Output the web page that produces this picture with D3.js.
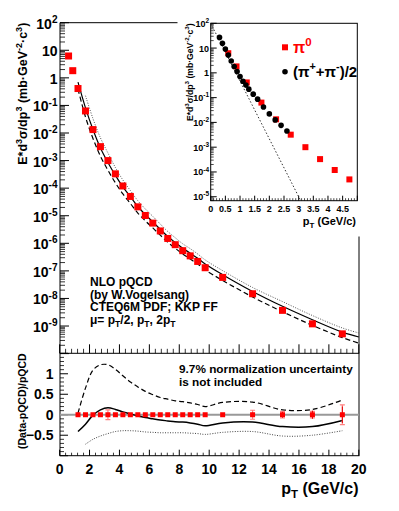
<!DOCTYPE html>
<html><head><meta charset="utf-8">
<script src="https://cdn.jsdelivr.net/npm/d3@7"></script>
<style>
body{margin:0;background:#fff}
svg{display:block}
text{font-family:"Liberation Sans",Arial,Helvetica,sans-serif;font-weight:bold;fill:#000}
</style>
</head><body>
<svg id="c" width="399" height="511"></svg>
<script>
// ---------------- data ----------------
const pi0Pt   = [0.6,0.88,1.23,1.73,2.23,2.73,3.23,3.73,4.23,4.73,5.23,5.73,6.23,6.73,7.23,7.73,8.23,8.73,9.23,9.73,10.9,12.9,14.9,16.9,18.9];
const pi0Xsec = [6.2,1.82,0.41,0.063,0.0133,3.2e-3,1.0e-3,3.3e-4,1.2e-4,5.0e-5,2.1e-5,1.02e-5,5.4e-6,2.8e-6,1.5e-6,8.9e-7,5.4e-7,3.5e-7,2.2e-7,1.3e-7,5.8e-8,1.48e-8,3.7e-9,1.2e-9,5.2e-10];

const chPt   = [0.3,0.4,0.5,0.6,0.7,0.8,0.9,1.0,1.1,1.2,1.3,1.45,1.6,1.8,2.0,2.2,2.4,2.6];
const chXsec = [27,15.5,9.1,5.2,3.0,1.8,1.14,0.71,0.46,0.32,0.22,0.138,0.087,0.042,0.022,0.0126,0.0076,0.0045];

// NLO pQCD curves (mu = pT, 2pT, pT/2)
const nloPt     = [1.23,1.73,2.23,2.73,3.23,3.73,4.23,4.73,5.23,5.73,6.23,6.73,7.23,7.73,8.23,8.73,9.23,9.73,10.9,12.9,14.9,16.9,18.9,20];
const nloMu1    = [0.695,0.0818,0.01343,2.86e-3,8.55e-4,2.92e-4,1.12e-4,4.9e-5,2.16e-5,1.10e-5,6.0e-6,3.22e-6,1.76e-6,1.07e-6,6.6e-7,4.4e-7,2.86e-7,1.78e-7,7.3e-8,1.8e-8,5.2e-9,1.69e-9,6.0e-10,4.0e-10];
const nloMu2    = [0.394,0.0382,6.36e-3,1.44e-3,4.5e-4,1.56e-4,6.15e-5,2.78e-5,1.25e-5,6.5e-6,3.62e-6,1.97e-6,1.09e-6,6.6e-7,4.1e-7,2.7e-7,1.76e-7,1.09e-7,4.5e-8,1.13e-8,3.3e-9,1.06e-9,3.8e-10,2.4e-10];
const nloHalfPt = [1.73,2.23,2.73,3.23,3.73,4.23,4.73,5.23,5.73,6.23,6.73,7.23,7.73,8.23,8.73,9.23,9.73,10.9,12.9,14.9,16.9,18.9,20];
const nloHalf   = [0.225,0.0333,6.67e-3,1.89e-3,5.6e-4,1.97e-4,8.2e-5,3.5e-5,1.76e-5,9.5e-6,5.0e-6,2.68e-6,1.59e-6,9.6e-7,6.4e-7,4.1e-7,2.5e-7,1.02e-7,2.5e-8,7.7e-9,2.4e-9,8.5e-10,5.6e-10];

// inset: exponential reference (dotted straight line in log scale)
const expPt = [0, 3.13];
const expY  = [100, 5e-6];

// ratio panel
const ratioPt    = [1.23,1.73,2.23,2.73,3.23,3.73,4.23,4.73,5.23,5.73,6.23,6.73,7.23,7.73,8.23,8.73,9.23,9.73,10.9,12.9,14.9,16.9,18.9];
const ratioData  = [0,0,0,0,0,0,0,0,0,0,0,0,0,0,0,0,0,0,0,0,0,0,0];
const ratioStat  = [0,0,0,0,0,0,0,0,0,0,0,0,0,0,0,0,0,0.01,0.02,0.05,0.07,0.1,0.2];
const ratioSys   = [0.02,0.02,0.02,0.02,0.12,0.02,0.02,0.02,0.02,0.02,0.02,0.02,0.02,0.02,0.02,0.02,0.02,0.02,0.03,0.11,0.08,0.08,0.24];
const ratioMu1   = [-0.41,-0.23,-0.01,0.12,0.17,0.13,0.07,0.02,-0.03,-0.07,-0.10,-0.13,-0.15,-0.17,-0.18,-0.20,-0.23,-0.27,-0.20,-0.18,-0.29,-0.29,-0.14];
const ratioMu2   = [0.04,0.65,1.09,1.22,1.22,1.11,0.95,0.80,0.68,0.57,0.49,0.42,0.38,0.34,0.32,0.29,0.25,0.20,0.30,0.31,0.12,0.13,0.36];
const ratioHalfPt= [1.73,2.23,2.73,3.23,3.73,4.23,4.73,5.23,5.73,6.23,6.73,7.23,7.73,8.23,8.73,9.23,9.73,10.9,12.9,14.9,16.9,18.9];
const ratioHalf  = [-0.72,-0.60,-0.52,-0.46,-0.41,-0.39,-0.39,-0.40,-0.42,-0.43,-0.44,-0.44,-0.44,-0.44,-0.45,-0.46,-0.48,-0.43,-0.41,-0.52,-0.50,-0.39];

// tick labels
const mainXTicks   = [0,2,4,6,8,10,12,14,16,18,20];
const mainYTicks   = ["10^{2}","10","1","10^{-1}","10^{-2}","10^{-3}","10^{-4}","10^{-5}","10^{-6}","10^{-7}","10^{-8}","10^{-9}"];
const ratioYTicks  = [1,0.5,0,-0.5];
const insetXTicks  = ["0","0.5","1","1.5","2","2.5","3","3.5","4","4.5"];
const insetYTicks  = ["10^{2}","10","1","10^{-1}","10^{-2}","10^{-3}","10^{-4}","10^{-5}"];

const mainYTitle  = "E*d^{3}σ/dp^{3} (mb·GeV^{-2}·c^{3})";
const ratioYTitle = "(Data-pQCD)/pQCD";
const xTitle      = "p_{T} (GeV/c)";
const legendLabels = ["π^{0}", "(π^{+}+π^{-})/2"];
const nloText  = ["NLO pQCD","(by W.Vogelsang)","CTEQ6M PDF; KKP FF","μ= p_{T}/2, p_{T}, 2p_{T}"];
const normText = ["9.7% normalization uncertainty","is not included"];

// ---------------- helpers ----------------
function parse(s){
  const parts=[]; const re=/([\^_])\{([^}]*)\}/g; let last=0,m;
  while((m=re.exec(s))){ if(m.index>last) parts.push([s.slice(last,m.index),0]); parts.push([m[2], m[1]==='^'?1:-1]); last=re.lastIndex; }
  if(last<s.length) parts.push([s.slice(last),0]);
  return parts;
}
function rich(sel, s, fs){
  let cur=0;
  parse(s).forEach(([t,m])=>{
    const size = m? fs*0.72 : fs;
    const target = m===1? -fs*0.42 : (m===-1? fs*0.28 : 0);
    sel.append('tspan').attr('font-size',size).attr('dy',(target-cur).toFixed(2)).text(t);
    cur=target;
  });
  return sel;
}

const svg = d3.select('#c');
svg.append('rect').attr('width',399).attr('height',511).attr('fill','#fff');

// ---------------- scales ----------------
const L=60, R=359, T=22.7, MB=353.3, BB=455.7;
const x  = d3.scaleLinear().domain([0,20]).range([59.6,358.8]);
const yM = d3.scaleLog().domain([1e-10,1e2]).range([353.6,T]);
const yR = d3.scaleLinear().domain([-1,1.5]).range([BB,MB]);

const IL=210.7, IR=357.3, IT=23.3, IB=200.7;
const xi = d3.scaleLinear().domain([0,5]).range([IL,IR]);
const yi = d3.scaleLog().domain([Math.pow(10,-5.16),1e2]).range([IB,IT]);

const defs = svg.append('defs');
defs.append('clipPath').attr('id','cm').append('rect').attr('x',L).attr('y',T).attr('width',R-L).attr('height',MB-T);
defs.append('clipPath').attr('id','cr').append('rect').attr('x',L).attr('y',MB).attr('width',R-L).attr('height',BB-MB);
defs.append('clipPath').attr('id','ci').append('rect').attr('x',IL).attr('y',IT).attr('width',IR-IL).attr('height',IB-IT);

function hTick(g, yy, x0, len, w){ g.append('line').attr('x1',x0).attr('x2',x0+len).attr('y1',yy).attr('y2',yy).attr('stroke','#000').attr('stroke-width',w||1); }
function vTick(g, xx, y0, len, w){ g.append('line').attr('x1',xx).attr('x2',xx).attr('y1',y0).attr('y2',y0-len).attr('stroke','#000').attr('stroke-width',w||1); }

// ---------------- main panel ----------------
const gm = svg.append('g');
gm.append('path').attr('d',`M${L},${MB}V${T}H${R}V${MB}`).attr('fill','none').attr('stroke','#000').attr('stroke-width',1);
for(let k=-10;k<=2;k++){
  hTick(gm, yM(Math.pow(10,k)), L, 9);
  if(k<2) for(let m=2;m<=9;m++) hTick(gm, yM(m*Math.pow(10,k)), L, 5, 0.8);
}
mainYTicks.forEach((lab,i)=>{
  const v = Math.pow(10, 2-i);
  rich(gm.append('text').attr('x',57.5).attr('y',yM(v)+6).attr('text-anchor','end'), lab, 14);
});
d3.range(0,20.001,0.4).forEach(v=>{ const major = Math.abs(v/2-Math.round(v/2))<1e-6; vTick(gm, x(v), MB, major?9:4.5, major?1:0.8); });
rich(gm.append('text').attr('transform',`translate(27,${T}) rotate(-90)`).attr('text-anchor','end'), mainYTitle, 12.5);

const lineM = d3.line().x(d=>x(d[0])).y(d=>yM(d[1])).curve(d3.curveCatmullRom);
const cm = gm.append('g').attr('clip-path','url(#cm)');
cm.append('path').attr('d',lineM(nloPt.map((p,i)=>[p,nloMu1[i]]))).attr('fill','none').attr('stroke','#000').attr('stroke-width',1.2);
cm.append('path').attr('d',lineM(nloPt.map((p,i)=>[p,nloMu2[i]]))).attr('fill','none').attr('stroke','#000').attr('stroke-width',1.2).attr('stroke-dasharray','5,3');
cm.append('path').attr('d',lineM(nloHalfPt.map((p,i)=>[p,nloHalf[i]]))).attr('fill','none').attr('stroke','#555').attr('stroke-width',1).attr('stroke-dasharray','1,1.5');
cm.selectAll('rect.p').data(pi0Pt.map((p,i)=>[p,pi0Xsec[i]])).enter().append('rect')
  .attr('x',d=>x(d[0])-3.5).attr('y',d=>yM(d[1])-3.5).attr('width',7).attr('height',7).attr('fill','#ff0000');

nloText.forEach((t,i)=>{ rich(gm.append('text').attr('x',90).attr('y',286+i*12.7), t, 12); });

// ---------------- ratio panel ----------------
const gr = svg.append('g');
gr.append('rect').attr('x',L).attr('y',MB).attr('width',R-L).attr('height',BB-MB).attr('fill','none').attr('stroke','#000').attr('stroke-width',1);
d3.range(-1,1.5001,0.1).forEach(v=>{ const major = Math.abs(v*2-Math.round(v*2))<1e-6; hTick(gr, yR(v), L, major?8:4, major?1:0.8); });
ratioYTicks.forEach(v=>{ gr.append('text').attr('x',53.5).attr('y',yR(v)+5).attr('text-anchor','end').attr('font-size',14).text(v===0?'0':d3.format('')(v)); });
d3.range(0,20.001,0.4).forEach(v=>{ const major = Math.abs(v/2-Math.round(v/2))<1e-6; vTick(gr, x(v), BB, major?6:3, major?1:0.8); });
mainXTicks.forEach(v=>{ gr.append('text').attr('x',x(v)).attr('y',474).attr('text-anchor','middle').attr('font-size',14).text(v); });
rich(gr.append('text').attr('x',358.5).attr('y',494).attr('text-anchor','end'), xTitle, 16);
rich(gr.append('text').attr('transform',`translate(25.5,${MB}) rotate(-90)`).attr('text-anchor','end'), ratioYTitle, 10.5);

const cr = gr.append('g').attr('clip-path','url(#cr)');
cr.append('line').attr('x1',L).attr('x2',R).attr('y1',yR(0)).attr('y2',yR(0)).attr('stroke','#999').attr('stroke-width',2);
const lineR = d3.line().x(d=>x(d[0])).y(d=>yR(d[1])).curve(d3.curveCatmullRom);
cr.append('path').attr('d',lineR(ratioPt.map((p,i)=>[p,ratioMu2[i]]))).attr('fill','none').attr('stroke','#000').attr('stroke-width',1.2).attr('stroke-dasharray','5,3');
cr.append('path').attr('d',lineR(ratioPt.map((p,i)=>[p,ratioMu1[i]]))).attr('fill','none').attr('stroke','#000').attr('stroke-width',1.5);
cr.append('path').attr('d',lineR(ratioHalfPt.map((p,i)=>[p,ratioHalf[i]]))).attr('fill','none').attr('stroke','#444').attr('stroke-width',1).attr('stroke-dasharray','1,1.5');
ratioPt.forEach((p,i)=>{
  const s = ratioSys[i]; if(s<0.05) return;
  const xx=x(p), y1=yR(ratioData[i]+s), y2=yR(ratioData[i]-s);
  cr.append('path').attr('d',`M${xx-2.5},${y1}H${xx+2.5}M${xx},${y1}V${y2}M${xx-2.5},${y2}H${xx+2.5}`).attr('fill','none').attr('stroke','#ff8080').attr('stroke-width',1.2);
});
ratioPt.forEach((p,i)=>{
  const s = ratioStat[i]; if(s<0.03) return;
  const xx=x(p);
  cr.append('line').attr('x1',xx).attr('x2',xx).attr('y1',yR(ratioData[i]+s)).attr('y2',yR(ratioData[i]-s)).attr('stroke','#e00000').attr('stroke-width',1);
});
cr.selectAll('rect.p').data(ratioPt.map((p,i)=>[p,ratioData[i]])).enter().append('rect')
  .attr('x',d=>x(d[0])-2.5).attr('y',d=>yR(d[1])-2.5).attr('width',5).attr('height',5).attr('fill','#ff0000');
normText.forEach((t,i)=>{ gr.append('text').attr('x',179).attr('y',373.3+i*13).attr('font-size',11.8).text(t); });

// ---------------- inset ----------------
const gi = svg.append('g');
gi.append('rect').attr('x',177.5).attr('y',0).attr('width',190).attr('height',236.5).attr('fill','#fff');
gi.append('rect').attr('x',IL).attr('y',IT).attr('width',IR-IL).attr('height',IB-IT).attr('fill','none').attr('stroke','#000').attr('stroke-width',1);
for(let k=-6;k<=2;k++){
  const v=Math.pow(10,k);
  if(v>=yi.domain()[0]) hTick(gi, yi(v), IL, 6);
  if(k<2) for(let m=2;m<=9;m++){ const w=m*v; if(w>=yi.domain()[0]&&w<=100) hTick(gi, yi(w), IL, 3, 0.7); }
}
insetYTicks.forEach((lab,i)=>{ rich(gi.append('text').attr('x',209).attr('y',yi(Math.pow(10,2-i))+3.5).attr('text-anchor','end'), lab, 9); });
d3.range(0,5.0001,0.1).forEach(v=>{ const major = Math.abs(v*2-Math.round(v*2))<1e-6; vTick(gi, xi(v), IB, major?5:2.5, major?1:0.7); });
insetXTicks.forEach(t=>{ gi.append('text').attr('x',xi(+t)).attr('y',211.5).attr('text-anchor','middle').attr('font-size',9).text(t); });
rich(gi.append('text').attr('x',356).attr('y',225).attr('text-anchor','end'), xTitle, 11);
rich(gi.append('text').attr('transform',`translate(193,${IT}) rotate(-90)`).attr('text-anchor','end'), mainYTitle, 8.6);

const ci = gi.append('g').attr('clip-path','url(#ci)');
const lineI = d3.line().x(d=>xi(d[0])).y(d=>yi(d[1]));
ci.append('path').attr('d',lineI(expPt.map((p,i)=>[p,expY[i]]))).attr('fill','none').attr('stroke','#333').attr('stroke-width',1).attr('stroke-dasharray','1.5,2');
ci.selectAll('rect.p').data(pi0Pt.map((p,i)=>[p,pi0Xsec[i]]).filter(d=>d[0]<5)).enter().append('rect')
  .attr('x',d=>xi(d[0])-3).attr('y',d=>yi(d[1])-3).attr('width',6).attr('height',6).attr('fill','#ff0000');
ci.selectAll('circle').data(chPt.map((p,i)=>[p,chXsec[i]])).enter().append('circle')
  .attr('cx',d=>xi(d[0])).attr('cy',d=>yi(d[1])).attr('r',2.8).attr('fill','#000');

gi.append('rect').attr('x',282).attr('y',44.3).attr('width',6).attr('height',6).attr('fill','#ff0000');
gi.append('circle').attr('cx',285).attr('cy',71.7).attr('r',2.8).attr('fill','#000');
rich(gi.append('text').attr('x',293).attr('y',52.5).style('fill','#ff0000'), legendLabels[0], 16);
rich(gi.append('text').attr('x',293).attr('y',76.5), legendLabels[1], 15);
</script>
</body></html>
